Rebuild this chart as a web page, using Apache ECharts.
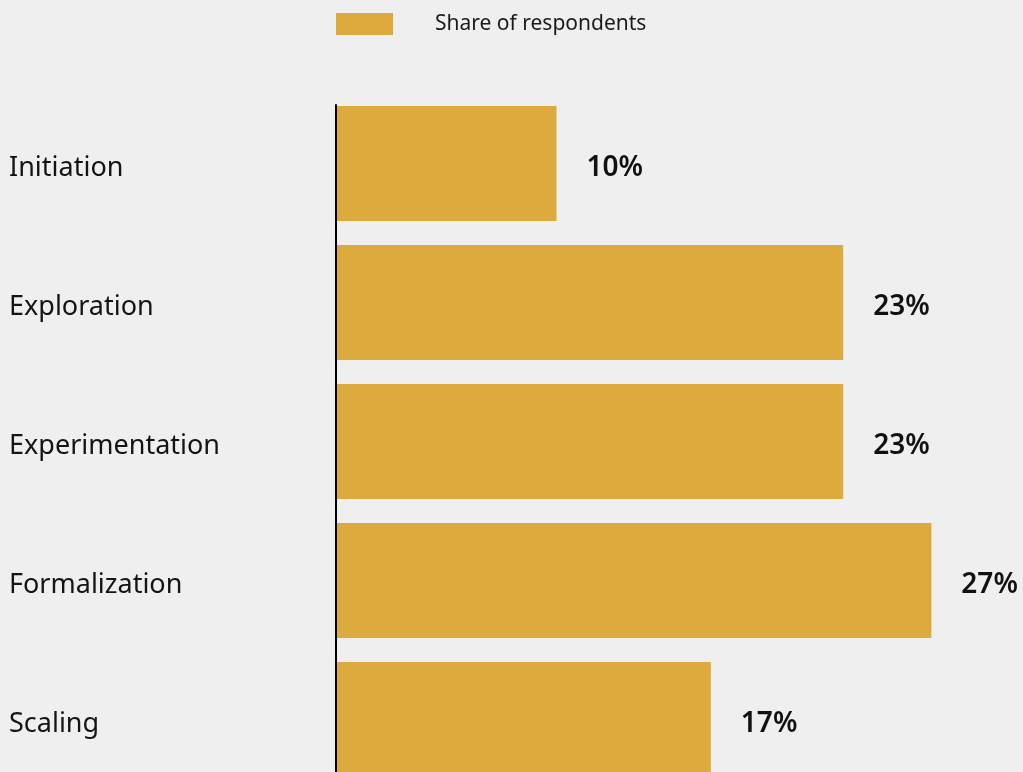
<!DOCTYPE html>
<html>
<head>
<meta charset="utf-8">
<title>Share of respondents by stage</title>
<script src="https://cdn.jsdelivr.net/npm/echarts@6/dist/echarts.min.js"></script>
<style>
  html, body { margin: 0; padding: 0; background: #efefef; }
  #chart { width: 1023px; height: 772px; }
</style>
</head>
<body>
<div id="chart"></div>
<script>
// Stages and the share of respondents at each stage (percent)
const stages = ['Initiation', 'Exploration', 'Experimentation', 'Formalization', 'Scaling'];
const shares = [10, 23, 23, 27, 17];
const seriesName = 'Share of respondents';

const FONT = '"Noto Sans", sans-serif';
const GOLD = '#dcaa3d';

const chart = echarts.init(document.getElementById('chart'), null, { renderer: 'canvas' });

chart.setOption({
  backgroundColor: '#efefef',
  animation: false,
  legend: {
    left: 331,
    top: 8,
    icon: 'rect',
    itemWidth: 57,
    itemHeight: 22,
    textStyle: {
      fontFamily: FONT,
      fontSize: 21,
      color: '#1a1a1a',
      padding: [0, 0, 0, 37]
    },
    data: [seriesName]
  },
  grid: [
    // bars: the plot runs past the bottom edge of the page
    { left: 336, width: 661.5, top: 94, height: 695, containLabel: false, outerBoundsMode: 'none' },
    // vertical baseline, starting at the top of the first bar
    { left: 336, width: 661.5, top: 105, height: 684, containLabel: false, outerBoundsMode: 'none' }
  ],
  xAxis: [
    {
      gridIndex: 0, type: 'value', min: 0, max: 30,
      axisLine: { show: false }, axisTick: { show: false },
      axisLabel: { show: false }, splitLine: { show: false }
    },
    {
      gridIndex: 1, type: 'value', min: 0, max: 30, show: false
    }
  ],
  yAxis: [
    {
      gridIndex: 0, type: 'category', inverse: true, data: stages,
      axisLine: { show: false }, axisTick: { show: false },
      axisLabel: {
        align: 'left',
        margin: 327,
        formatter: (v) => '{stage|' + v + '}',
        rich: {
          stage: {
            padding: [9, 0, 0, 0],
            fontFamily: FONT,
            fontSize: 27,
            color: '#141414'
          }
        }
      }
    },
    {
      gridIndex: 1, type: 'category', inverse: true, data: stages,
      z: 5,
      axisLine: { show: true, lineStyle: { color: '#000', width: 2 } },
      axisTick: { show: false }, axisLabel: { show: false }
    }
  ],
  series: [
    {
      name: seriesName,
      type: 'bar',
      xAxisIndex: 0,
      yAxisIndex: 0,
      data: shares,
      barWidth: 115,
      itemStyle: { color: GOLD },
      label: {
        show: true,
        position: 'right',
        distance: 30,
        offset: [0, 5],
        formatter: '{c}%',
        fontFamily: FONT,
        fontSize: 28,
        fontWeight: 600,
        color: '#111'
      }
    }
  ]
});
</script>
</body>
</html>
